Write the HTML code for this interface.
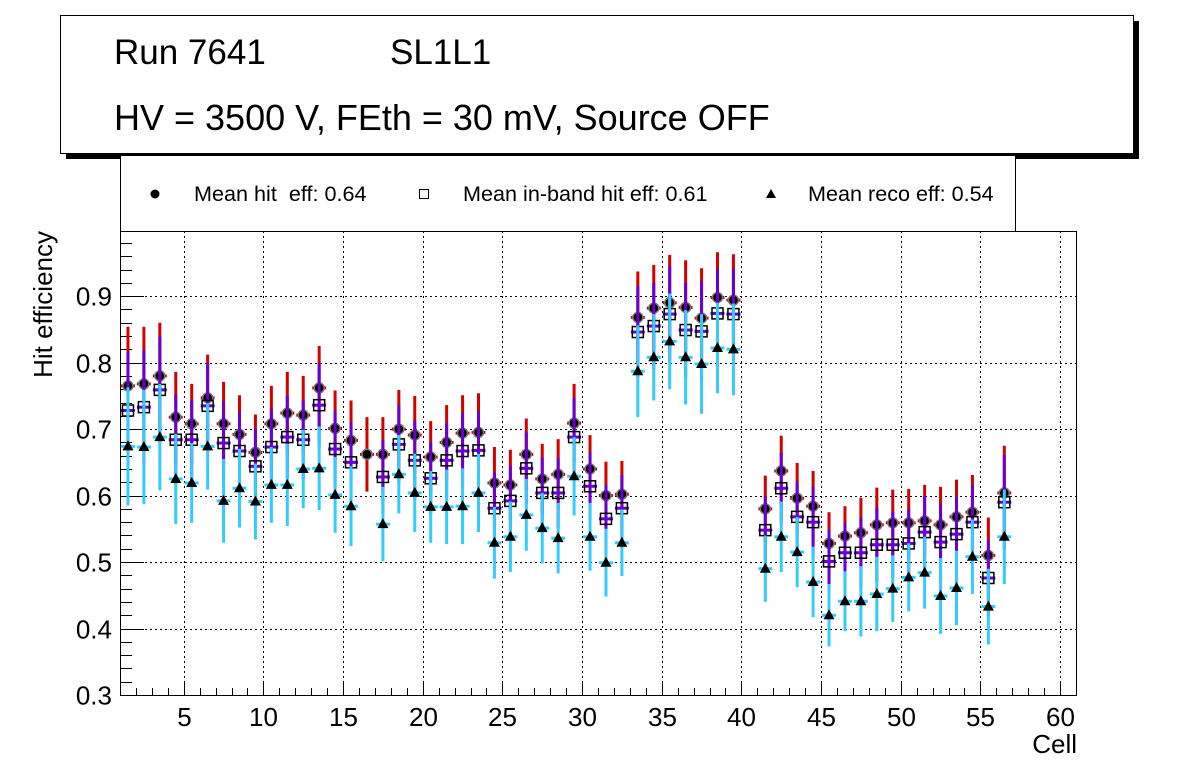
<!DOCTYPE html>
<html><head><meta charset="utf-8">
<style>
body{margin:0;background:#fff;font-family:"Liberation Sans",sans-serif;}
svg text{font-family:"Liberation Sans",sans-serif;}
</style></head>
<body>
<svg id="chart" width="1196" height="772" xmlns="http://www.w3.org/2000/svg">
<rect x="66" y="21" width="1073" height="138" fill="#000"/>
<rect x="60.5" y="15.5" width="1073" height="138" fill="#fff" stroke="#000" stroke-width="1"/>
<text x="114" y="64" font-size="35">Run 7641</text>
<text x="390" y="64" font-size="35">SL1L1</text>
<text x="114" y="130" font-size="36">HV = 3500 V, FEth = 30 mV, Source OFF</text>
<rect x="120.5" y="155.5" width="895" height="76" fill="#fff" stroke="#000" stroke-width="1"/>
<g>
<circle cx="155" cy="194" r="4.5" fill="#000"/>
<text x="194" y="201" font-size="21.6" xml:space="preserve">Mean hit  eff: 0.64</text></g>
<g>
<rect x="419.5" y="189.5" width="9" height="9" fill="none" stroke="#000"/>
<text x="463" y="201" font-size="21.6">Mean in-band hit eff: 0.61</text></g>
<g>
<polygon points="771,189 766,198 776,198" fill="#000"/>
<text x="808" y="201" font-size="21.6">Mean reco eff: 0.54</text></g>
<g id="grid"></g>
<g id="axes"></g>
<g id="marks"></g>
<rect x="120.5" y="231.5" width="956" height="464" fill="none" stroke="#000"/>
<text x="1077" y="753" font-size="26" text-anchor="end">Cell</text>
<text transform="translate(52,231) rotate(-90)" font-size="26" text-anchor="end">Hit efficiency</text>
</svg>
<script>
const cells=[];for(let i=1;i<=56;i++)cells.push(i);
const hitEff=[0.765,0.768,0.78,0.718,0.708,0.747,0.708,0.692,0.665,0.708,0.724,0.721,0.762,0.701,0.683,0.662,0.662,0.70,0.691,0.658,0.680,0.694,0.695,0.619,0.616,0.662,0.625,0.632,0.709,0.64,0.60,0.602,0.868,0.882,0.89,0.883,0.867,0.898,0.894,null,0.58,0.637,0.596,0.584,0.528,0.539,0.544,0.556,0.559,0.559,0.562,0.556,0.568,0.575,0.51,0.604];
const inbandEff=[0.728,0.733,0.759,0.684,0.684,0.735,0.679,0.667,0.644,0.673,0.688,0.684,0.736,0.67,0.65,null,0.628,0.677,0.653,0.626,0.653,0.667,0.668,0.581,0.592,0.641,0.604,0.604,0.688,0.614,0.565,0.581,0.846,0.855,0.873,0.849,0.847,0.874,0.873,null,0.548,0.611,0.568,0.56,0.501,0.514,0.514,0.526,0.526,0.528,0.545,0.53,0.542,0.56,0.476,0.59];
const recoEff=[0.674,0.673,0.688,0.625,0.619,0.674,0.592,0.611,0.591,0.616,0.616,0.64,0.641,0.601,0.584,null,0.557,0.632,0.604,0.583,0.583,0.584,0.604,0.529,0.538,0.571,0.551,0.536,0.629,0.538,0.499,0.529,0.787,0.808,0.832,0.808,0.798,0.822,0.82,null,0.49,0.538,0.515,0.47,0.42,0.441,0.441,0.452,0.46,0.477,0.484,0.449,0.461,0.508,0.433,0.538];
const effErr=[0.089,0.086,0.08,0.068,0.06,0.065,0.063,0.059,0.057,0.057,0.062,0.059,0.063,0.057,0.06,0.056,0.056,0.059,0.059,0.054,0.056,0.057,0.059,0.054,0.053,0.054,0.053,0.053,0.059,0.051,0.051,0.05,0.069,0.065,0.072,0.071,0.075,0.068,0.069,null,0.05,0.053,0.053,0.053,0.047,0.045,0.053,0.056,0.05,0.051,0.054,0.057,0.056,0.056,0.057,0.071];
const xTicks=[5,10,15,20,25,30,35,40,45,50,55,60];
const yTicks=[0.3,0.4,0.5,0.6,0.7,0.8,0.9];
const X0=120,X1=1076,Y0=695,Y1=231,xmin=1,xmax=61,ymin=0.3,ymax=0.998;
const xs=v=>X0+(v-xmin)/(xmax-xmin)*(X1-X0);
const ys=v=>Y0-(v-ymin)/(ymax-ymin)*(Y0-Y1);
const NS="http://www.w3.org/2000/svg";
function mk(tag,parent,attrs){const e=document.createElementNS(NS,tag);for(const k in attrs)e.setAttribute(k,attrs[k]);parent.appendChild(e);return e;}
const grid=document.getElementById('grid'),axes=document.getElementById('axes'),marks=document.getElementById('marks');
xTicks.forEach(t=>{const x=Math.round(xs(t))+0.5;
 const g=mk('line',grid,{x1:x,x2:x,y1:Y1,y2:Y0,stroke:'#000','stroke-dasharray':'2,3'});
 
 
 mk('line',axes,{x1:x,x2:x,y1:Y0,y2:Y0-14,stroke:'#000'});
 const l=mk('text',axes,{x:x,y:726,'font-size':26,'text-anchor':'middle'});l.textContent=t;
 
 });
for(let t=2;t<=60;t++){if(t%5===0)continue;const x=Math.round(xs(t))+0.5;mk('line',axes,{x1:x,x2:x,y1:Y0,y2:Y0-7,stroke:'#000'});}
yTicks.forEach(t=>{const y=Math.round(ys(t))+0.5;
 if(t>0.3){const g=mk('line',grid,{x1:X0,x2:X1,y1:y,y2:y,stroke:'#000','stroke-dasharray':'2,3'});
 
 }
 mk('line',axes,{x1:X0,x2:X0+24,y1:y,y2:y,stroke:'#000'});
 const l=mk('text',axes,{x:112,y:y+9,'font-size':26,'text-anchor':'end'});l.textContent=t.toFixed(1);
 
 });
for(let t=0.32;t<0.998;t+=0.02){const y=Math.round(ys(t))+0.5;mk('line',axes,{x1:X0,x2:X0+12,y1:y,y2:y,stroke:'#000'});}
function series(vals,color,kind,name){
 const g=mk('g',marks,{});
 
 
 vals.forEach((v,i)=>{if(v==null||effErr[i]==null)return;
  const cx=xs(cells[i]+0.5),cy=ys(v),e=effErr[i];
  mk('line',g,{x1:cx,x2:cx,y1:ys(v+e),y2:ys(v-e),stroke:color,'stroke-width':3});
  mk('line',g,{x1:xs(cells[i])+1,x2:xs(cells[i]+1)-1,y1:cy,y2:cy,stroke:color,'stroke-width':3});
  let m;
  if(kind==='c'){m=mk('circle',g,{cx:cx,cy:cy,r:5,fill:'#000',stroke:'#777','stroke-width':1.5});}
  else if(kind==='s'){m=mk('rect',g,{x:cx-5.5,y:cy-5.5,width:11,height:11,fill:'none',stroke:'#000','stroke-width':1.5});}
  else{m=mk('polygon',g,{points:`${cx},${cy-6} ${cx-5.5},${cy+4} ${cx+5.5},${cy+4}`,fill:'#000'});}
  
  });}
series(hitEff,'#d40000','c','hit-eff-series');
series(inbandEff,'#6a00d0','s','inband-eff-series');
series(recoEff,'#33ccff','t','reco-eff-series');
</script>
</body></html>
